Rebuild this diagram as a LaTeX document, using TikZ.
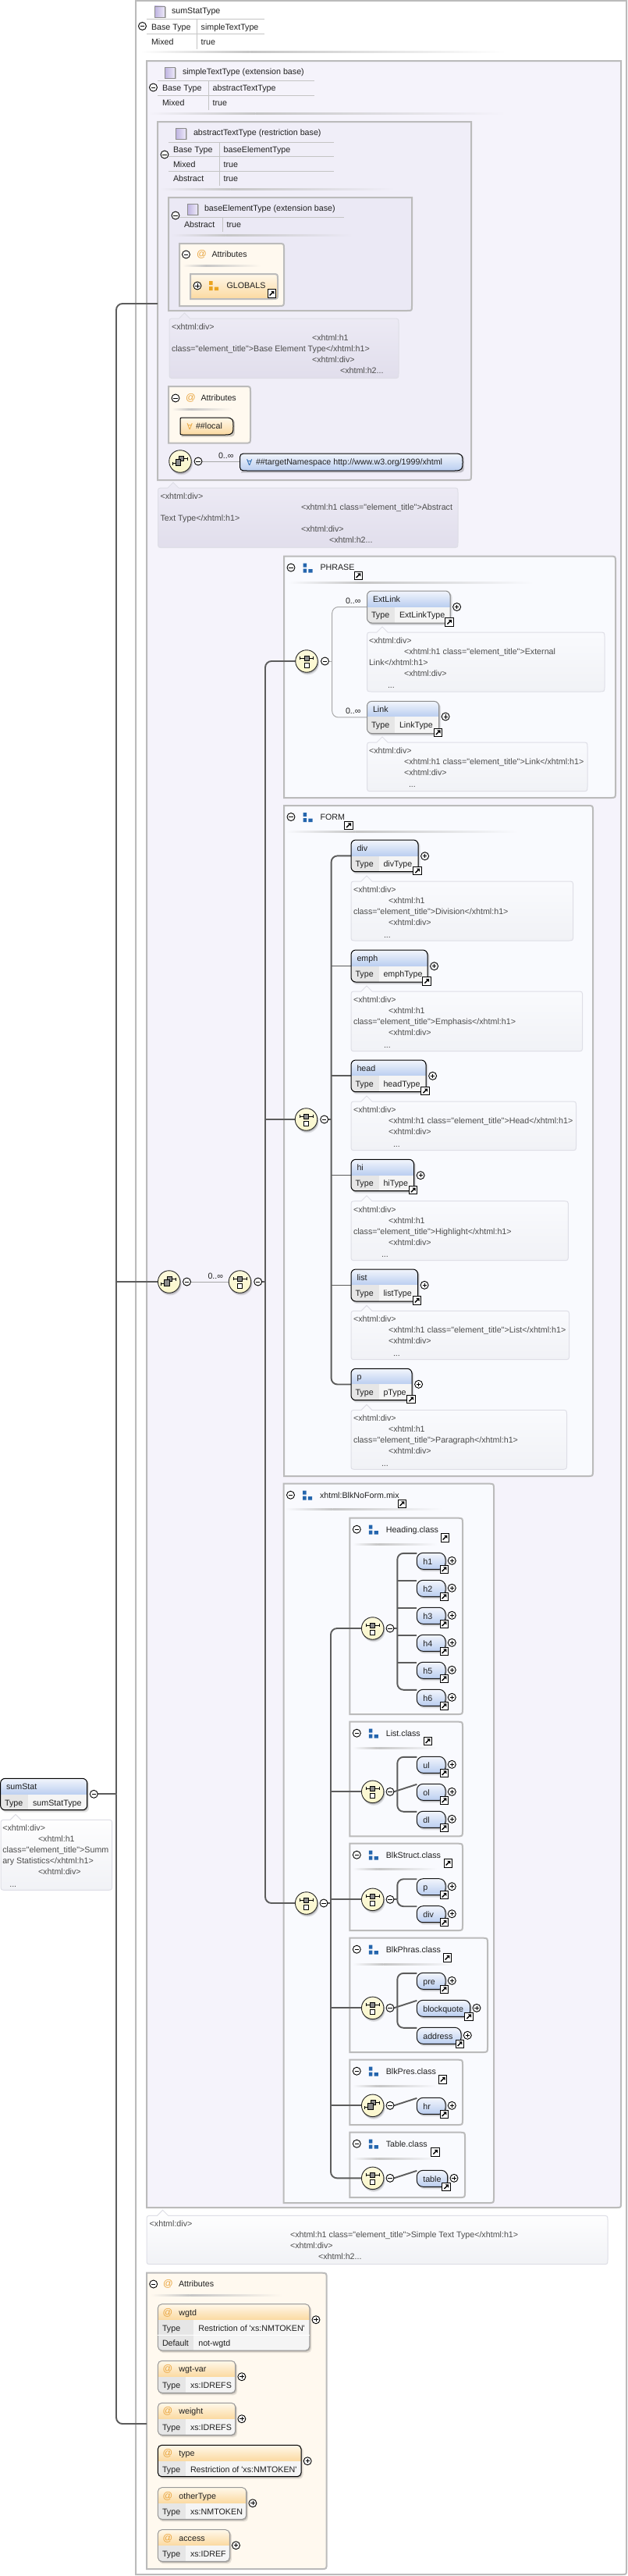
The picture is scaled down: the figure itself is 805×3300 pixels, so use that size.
\documentclass[tikz,border=0pt]{standalone}
\usepackage{fontspec}
\setmainfont{Liberation Sans}[Ligatures=TeXOff]
\newfontfamily\djv{DejaVu Sans}
\pgfdeclarelayer{boxes}\pgfdeclarelayer{wires}\pgfsetlayers{boxes,wires,main}
\definecolor{boxln}{HTML}{BBBBBB}
\definecolor{wirec}{HTML}{5C5C5C}
\definecolor{thinw}{HTML}{A8A8A8}
\definecolor{txtc}{HTML}{202020}
\definecolor{anntc}{HTML}{4C4C4C}
\definecolor{elt}{HTML}{F2F5FC}
\definecolor{elb}{HTML}{BACEF0}
\definecolor{rowa}{HTML}{E6E6E6}
\definecolor{rowb}{HTML}{F5F5F5}
\definecolor{att}{HTML}{FFF8EA}
\definecolor{atb}{HTML}{FBD9A0}
\definecolor{grpf}{HTML}{F9FAFE}
\definecolor{simf}{HTML}{F5F3FB}
\definecolor{absf}{HTML}{F0EEF8}
\definecolor{basf}{HTML}{EBE9F5}
\definecolor{attf}{HTML}{FFF9EF}
\definecolor{tlin}{HTML}{C4C4C4}
\definecolor{fadec}{HTML}{C6C6C6}
\definecolor{blueg}{HTML}{2465AD}
\definecolor{orag}{HTML}{EBA41F}
\definecolor{ats}{HTML}{E9A53F}
\definecolor{annln}{HTML}{DEDEE6}
\definecolor{annt}{HTML}{FAFBFE}
\definecolor{annb}{HTML}{F1F2F6}
\definecolor{lavt}{HTML}{EDEBF5}
\definecolor{lavb}{HTML}{E1DEEC}
\definecolor{ylw}{HTML}{FBF7CC}
\definecolor{tyl}{HTML}{BDB2E0}
\definecolor{tyr}{HTML}{ECE8F8}
\tikzset{
 txt/.style={inner sep=0,outer sep=0,font=\fontsize{10.7}{12}\selectfont,text=txtc},
 anntxt/.style={inner sep=0,outer sep=0,font=\fontsize{10.7}{12}\selectfont,text=anntc},
 attxt/.style={inner sep=0,outer sep=0,font=\fontsize{12.5}{13}\selectfont,text=ats},
 holder/.style={inner sep=0,outer sep=0,rectangle},
 pm/.style={circle,draw=black,fill=white,line width=0.9pt,inner sep=0,outer sep=0,minimum size=10pt},
 compn/.style={circle,draw=black!85,line width=0.9pt,top color=ylw!70!white,bottom color=ylw,inner sep=0,outer sep=0,minimum size=28.5pt},
 wire/.style={draw=wirec,line width=1.9pt},
 thinwire/.style={draw=thinw,line width=1pt},
 boxline/.style={draw=boxln,line width=2pt},
 tline/.style={draw=tlin,line width=1pt},
}
\newcount\nc
\newif\ifshowlink \showlinktrue
\newcommand{\lab}[4][txt]{\global\advance\nc by 1 \node[#1,anchor=base west] (n\the\nc) at (#2,#3+3.8) {#4};}
\newcommand{\hold}[5]{\pgfmathsetmacro\hdw{#4-#2}\pgfmathsetmacro\hdh{#5-#3}\node[holder,minimum width=\hdw pt,minimum height=\hdh pt,anchor=north west] (#1) at (#2,#3) {};}
\newcommand{\mns}[3]{\node[pm] (#1) at (#2,#3) {};\draw[line width=0.9pt] (#2-2.6,#3) -- (#2+2.6,#3);}
\newcommand{\pls}[3]{\node[pm] (#1) at (#2,#3) {};\draw[line width=0.8pt] (#2-2.6,#3) -- (#2+2.6,#3) (#2,#3-2.6) -- (#2,#3+2.6);}
\newcommand{\lnk}[2]{\global\advance\nc by 1 \node[holder,minimum size=10.5pt,anchor=north west,draw=black,line width=1pt,fill=white] (n\the\nc) at (#1,#2) {};
 \draw[line width=1.4pt] (#1+2.6,#2+8) -- (#1+6.6,#2+4);
 \fill (#1+4.2,#2+2.4) -- (#1+8.4,#2+2.4) -- (#1+8.4,#2+6.6) -- cycle;}
\newcommand{\fadel}[4]{\pgfmathsetmacro\xm{#1+0.3*(#2-#1)}
 \shade[left color=#4,right color=fadec] (#1,#3-1) rectangle (\xm,#3+1);
 \shade[left color=fadec,right color=#4] (\xm,#3-1) rectangle (#2,#3+1);}
\newcommand{\tbox}[6]{\hold{#1}{#2}{#3}{#4}{#5}
 \draw[boxline,#6] (#2,#3) -- (#4,#3) -- (#4,#5-6) .. controls (#4,#5) .. (#4-6,#5) -- (#2,#5) -- cycle;}
\newcommand{\gbox}[6]{\hold{#1}{#2}{#3}{#4}{#5}
 \draw[boxline,#6] (#2,#3) -- (#4-7,#3) .. controls (#4,#3) .. (#4,#3+7) -- (#4,#5-7) .. controls (#4,#5) .. (#4-7,#5) -- (#2,#5) -- cycle;}
\newcommand{\trow}[6]{\draw[tline] (#1,#4) -- (#3,#4) (#2,#4) -- (#2,#4+19);
 \lab{#1+6}{#4+9.7}{#5}\lab{#2+5.7}{#4+9.7}{#6}}
\newcommand{\tyicon}[2]{\global\advance\nc by 1
 \fill[black!25] (#1+2,#2+1) rectangle (#1+15,#2+15);
 \node[holder,minimum width=13pt,minimum height=14pt,anchor=north west,draw=black!45,line width=0.8pt,left color=tyl,right color=tyr] (n\the\nc) at (#1,#2) {};}
\newcommand{\gicon}[3]{\fill[#3] (#1,#2) rectangle (#1+4.6,#2+5) (#1,#2+7) rectangle (#1+4.6,#2+12) (#1+6.8,#2+7.5) rectangle (#1+12,#2+12);}
\newcommand{\ghead}[7]{\mns{#1-m}{#2+9}{#3+14.5}\gicon{#2+24.5}{#3+9}{blueg}\lab{#2+46.5}{#3+14.5}{#4}\lnk{#5}{#6}}
\newcommand{\compbase}[3]{\fill[black,opacity=.1] (#2+1.5,#3+3) circle[radius=14.5];\fill[black,opacity=.18] (#2+.8,#3+1.6) circle[radius=14.5];\node[compn] (#1) at (#2,#3) {};}
\newcommand{\comch}[3]{\compbase{#1}{#2}{#3}
 \draw[line width=1pt] (#2-8.5,#3-4) -- (#2+8.5,#3-4) (#2-8.5,#3-6) -- (#2-8.5,#3-2) (#2+8.5,#3-6) -- (#2+8.5,#3-2);
 \draw[line width=0.8pt,fill=black!45] (#2-3,#3-7) rectangle (#2+3,#3-1);
 \draw[line width=0.9pt,fill=white] (#2-3,#3+2) rectangle (#2+3,#3+8);}
\newcommand{\comseq}[3]{\compbase{#1}{#2}{#3}
 \draw[line width=1pt] (#2-10,#3+2.5) -- (#2-5,#3+2.5) (#2+3,#3-3.5) -- (#2+9,#3-3.5) (#2+9,#3-5.5) -- (#2+9,#3-1.5) (#2-10,#3+.5) -- (#2-10,#3+4.5);
 \draw[line width=0.8pt,fill=black!45] (#2-2,#3-7) rectangle (#2+4,#3-1);
 \draw[line width=0.8pt,fill=black!45] (#2-6,#3-2.5) rectangle (#2+0.5,#3+5.5);}
\newcommand{\elemT}[9]{\hold{#2}{#3}{#4}{#5}{#7}
 \fill[black,opacity=.1,rounded corners=6] (#3+1.5,#4+2) rectangle (#5+2.5,#7+3);
 \fill[black,opacity=.18,rounded corners=6] (#3+1,#4+1) rectangle (#5+1.2,#7+1.5);
 \begin{scope}\clip[rounded corners=6] (#3,#4) rectangle (#5,#7);
 \shade[top color=elt,bottom color=elb] (#3,#4) rectangle (#5,#6);
 \fill[rowa] (#3,#6) rectangle (#3+35.7,#7);
 \fill[rowb] (#3+35.7,#6) rectangle (#5,#7);
 \end{scope}
 \draw[#1,line width=1pt,rounded corners=6] (#3,#4) rectangle (#5,#7);
 \lab{#3+7.5}{#4+10.5}{#8}\lab{#3+5.5}{#6+10.3}{Type}\lab{#3+41.5}{#6+10.3}{#9}
 \ifshowlink\pls{#2-p}{#5+8.6}{#6}\lnk{#5-6.3}{#7-6.5}\fi}
\newcommand{\selem}[5]{\hold{#1}{#2}{#4-10}{#3}{#4+11}
 \fill[black,opacity=.1,rounded corners=8] (#2+1.5,#4-8) rectangle (#3+2.5,#4+14);
 \fill[black,opacity=.18,rounded corners=8] (#2+1,#4-9) rectangle (#3+1.2,#4+12.5);
 \draw[black!90,line width=1pt,rounded corners=8,top color=elt,bottom color=elb] (#2,#4-10) rectangle (#3,#4+11);
 \lab{#2+8}{#4+1}{#5}\pls{#1-p}{#3+8.3}{#4}\lnk{#3-7}{#4+5.7}}
\newcommand{\attel}[9]{\hold{#2}{#3}{#4}{#5}{#7}
 \fill[black,opacity=.1,rounded corners=5] (#3+1.5,#4+2) rectangle (#5+2.5,#7+3);
 \fill[black,opacity=.18,rounded corners=5] (#3+1,#4+1) rectangle (#5+1.2,#7+1.5);
 \begin{scope}\clip[rounded corners=5] (#3,#4) rectangle (#5,#7);
 \shade[top color=att,bottom color=atb] (#3,#4) rectangle (#5,#6);
 \fill[rowa] (#3,#6) rectangle (#9,#7);
 \fill[rowb] (#9,#6) rectangle (#5,#7);
 \end{scope}
 \draw[#1,line width=1pt,rounded corners=5] (#3,#4) rectangle (#5,#7);
 \lab[attxt]{#3+6.2}{#4+10.7}{@}\lab{#3+27}{#4+10.7}{#8}
 \pls{#2-p}{#5+8.2}{#6-0.3}}
\newcommand{\pill}[8]{\hold{#1}{#2}{#3}{#4}{#5}
 \fill[black,opacity=.2] (#2+#8+1.5,#3+2) -- (#4-8,#3+2) .. controls (#4+2,#3+2) .. (#4+2,#3+11) .. controls (#4+2,#5+2.5) .. (#4-8,#5+2.5) -- (#2+1.5,#5+2.5) -- cycle;
 \draw[black,line width=1pt,top color=#6,bottom color=#7] (#2+#8,#3) -- (#4-10,#3) .. controls (#4,#3) and (#4,#3+3) .. (#4,#3+11) .. controls (#4,#5-3) and (#4,#5) .. (#4-10,#5) -- (#2+#8,#5) .. controls (#2,#5) .. (#2,#5-#8) -- (#2,#3+#8) .. controls (#2,#3) .. (#2+#8,#3) -- cycle;}
\newcommand{\annobox}[8]{\hold{#1}{#2}{#3}{#4}{#5}
 \draw[annln,line width=1pt,top color=#7,bottom color=#8] (#2+7,#3) -- (#6-7,#3) -- (#6,#3-7) -- (#6+7,#3) -- (#4-7,#3) .. controls (#4,#3) .. (#4,#3+7) -- (#4,#5-7) .. controls (#4,#5) .. (#4-7,#5) -- (#2+7,#5) .. controls (#2,#5) .. (#2,#5-7) -- (#2,#3+7) .. controls (#2,#3) .. (#2+7,#3) -- cycle;}
\newcommand{\al}[3]{\lab[anntxt]{#1}{#2}{#3}}
\newcommand{\XD}{<xhtml:div>}
\newcommand{\XO}{<xhtml:h1}
\newcommand{\CL}{class="element\_title">}
\newcommand{\XC}{</xhtml:h1>}
\newcommand{\XT}{<xhtml:h2...}
\newcommand{\annA}[6]{\annobox{#1}{450}{#2}{#3}{#4}{470}{annt}{annb}
 \al{453}{#2+10.7}{\XD}\al{498}{#2+24.7}{\XO}\al{453}{#2+38.7}{\CL#6\XC}\al{498}{#2+52.7}{\XD}\al{#5}{#2+68.3}{...}}
\newcommand{\annB}[6]{\annobox{#1}{450}{#2}{#3}{#4}{470}{annt}{annb}
 \al{453}{#2+10.7}{\XD}\al{498}{#2+24.7}{\XO\ \CL#6\XC}\al{498}{#2+38.7}{\XD}\al{#5}{#2+54.3}{...}}
\begin{document}
\begin{tikzpicture}[x=1pt,y=-1pt]
\useasboundingbox (0,0) rectangle (805,3300);
\begin{pgfonlayer}{boxes}
\fill[white] (0,0) rectangle (805,3300);
\tbox{outer}{174}{1}{803}{3298}{fill=white}
\tyicon{198}{8}\lab{220}{14}{sumStatType}
\trow{188}{252}{339}{25}{Base Type}{simpleTextType}
\trow{188}{252}{339}{44}{Mixed}{true}
\mns{outer-m}{182.5}{33.5}\fadel{180}{648}{66.7}{white}
\tbox{simple}{188}{78}{796}{2828}{fill=simf}
\tyicon{211}{86}\lab{234}{92}{simpleTextType (extension base)}
\trow{202}{267}{403}{103}{Base Type}{abstractTextType}
\trow{202}{267}{403}{122}{Mixed}{true}
\mns{simple-m}{196.5}{112}\fadel{190}{648}{145}{simf}
\tbox{abstr}{202}{156}{604}{615}{fill=absf}
\tyicon{225}{164}\lab{248}{170}{abstractTextType (restriction base)}
\trow{216}{281}{428}{182}{Base Type}{baseElementType}
\trow{216}{281}{428}{200.5}{Mixed}{true}
\trow{216}{281}{428}{219}{Abstract}{true}
\mns{abstr-m}{211}{198}\fadel{205}{506}{242}{absf}
\tbox{baseel}{216}{253}{528}{398}{fill=basf}
\tyicon{240}{261}\lab{262}{267}{baseElementType (extension base)}
\trow{230}{285}{441}{278}{Abstract}{true}
\mns{baseel-m}{225}{276}\fadel{220}{452}{301}{basf}
\gbox{attrA}{230}{312}{364}{392}{fill=attf}
\mns{attrA-m}{238.5}{326}\lab[attxt]{252}{326}{@}\lab{271.5}{326}{Attributes}
\fadel{234}{334}{340}{attf}
\gbox{globals}{244}{351}{356}{383}{top color=att,bottom color=atb}
\pls{globals-p}{253}{366}\gicon{268}{360}{orag}\lab{290.5}{365.5}{GLOBALS}\lnk{343}{370.5}
\gbox{attrB}{216}{495}{321}{567.6}{fill=attf}
\mns{attrB-m}{225}{510}\lab[attxt]{238}{510}{@}\lab{257.6}{510}{Attributes}
\fadel{220}{298}{524}{attf}
\gbox{phrase}{364}{712.6}{789}{1022}{fill=grpf}
\ghead{phrase}{364}{712.6}{PHRASE}{454}{732}{}
\fadel{370}{684}{746}{grpf}
\gbox{form}{364}{1032}{760}{1891}{fill=grpf}
\ghead{form}{364}{1032}{FORM}{441.6}{1052}{}
\fadel{366}{664}{1065}{grpf}
\gbox{blk}{363.5}{1900.7}{633}{2822}{fill=grpf}
\ghead{blk}{363.5}{1900.7}{xhtml:BlkNoForm.mix}{510}{1921}{}
\fadel{366}{567}{1933.7}{grpf}
\gbox{head}{448.3}{1944.7}{593}{2196}{fill=grpf}
\ghead{head}{448.3}{1944.7}{Heading.class}{565}{1964.5}{}
\fadel{452}{560}{1978}{grpf}
\gbox{listc}{448.3}{2205.7}{593}{2352.3}{fill=grpf}
\ghead{listc}{448.3}{2205.7}{List.class}{543}{2225}{}
\fadel{452}{560}{2239}{grpf}
\gbox{struct}{448.3}{2361.7}{593}{2473}{fill=grpf}
\ghead{struct}{448.3}{2361.7}{BlkStruct.class}{569}{2381.5}{}
\fadel{452}{560}{2394.7}{grpf}
\gbox{phras}{448.3}{2482.7}{625}{2629}{fill=grpf}
\ghead{phras}{448.3}{2482.7}{BlkPhras.class}{568}{2502.5}{}
\fadel{452}{583}{2516}{grpf}
\gbox{pres}{448.3}{2638.7}{593}{2722}{fill=grpf}
\ghead{pres}{448.3}{2638.7}{BlkPres.class}{562.3}{2658.5}{}
\fadel{452}{560}{2672}{grpf}
\gbox{table}{448.3}{2731.7}{596}{2815}{fill=grpf}
\ghead{table}{448.3}{2731.7}{Table.class}{552.7}{2751.5}{}
\fadel{452}{560}{2765}{grpf}
\gbox{attrC}{188}{2911.7}{418.6}{3291}{fill=attf}
\mns{attrC-m}{196.7}{2926}\lab[attxt]{209}{2926}{@}\lab{229}{2926}{Attributes}
\fadel{193}{362}{2940}{attf}
\end{pgfonlayer}
\annobox{a-base}{217}{408}{511}{484.6}{236.5}{lavt}{lavb}
\al{220}{418.6}{\XD}\al{400}{432.8}{\XO}\al{220}{446.6}{\CL Base Element Type\XC}\al{400}{460.5}{\XD}\al{436}{474.7}{\XT}
\pill{local}{231}{535}{299}{557}{att}{atb}{3}
\global\advance\nc by 1 \node[inner sep=0,outer sep=0,anchor=base west,font=\djv\fontsize{10.7}{12}\selectfont,text=ats] (n\the\nc) at (239.5,550) {∀};
\lab{251}{546}{\#\#local}
\comseq{seqA}{231}{591}\mns{seqA-m}{254}{591}
\lab{280}{584}{0..∞}
\pill{tns}{307.5}{581}{593}{603}{elt}{elb}{10}
\global\advance\nc by 1 \node[inner sep=0,outer sep=0,anchor=base west,font=\djv\fontsize{10.7}{12}\selectfont,text=blueg] (n\the\nc) at (316,596) {∀};
\lab{328}{592}{\#\#targetNamespace http://www.w3.org/1999/xhtml}
\annobox{a-abs}{202.5}{625}{587}{701.6}{222}{lavt}{lavb}
\al{205.6}{635.6}{\XD}\al{386}{649.4}{\XO\ \CL Abstract}\al{205.6}{663.6}{Text Type\XC}\al{386}{677.5}{\XD}\al{422}{691.7}{\XT}
\comch{chP}{393}{847}\mns{chP-m}{416.5}{847}
\lab{443}{770}{0..∞}\lab{443}{911}{0..∞}
\elemT{black!45}{extlink}{470.5}{757}{577}{777.5}{798}{ExtLink}{ExtLinkType}
\annobox{a-ext}{470.5}{810}{775}{886}{490}{annt}{annb}
\al{473}{820.5}{\XD}\al{518}{834.8}{\XO\ \CL External}\al{473}{848.6}{Link\XC}\al{518}{862.5}{\XD}\al{497}{877.5}{...}
\elemT{black!45}{linkel}{470.5}{898.4}{562.5}{918}{939.5}{Link}{LinkType}
\annobox{a-lnk}{470.5}{951}{753}{1013.7}{490}{annt}{annb}
\al{473}{961.3}{\XD}\al{518}{975.5}{\XO\ \CL Link\XC}\al{518}{989.3}{\XD}\al{524}{1004.7}{...}
\comch{chF}{392.5}{1434}\mns{chF-m}{415.7}{1434}
\elemT{black}{div}{450}{1076}{536}{1096.7}{1116.7}{div}{divType}
\annA{a-div}{1129}{734.6}{1205}{492}{Division}
\elemT{black}{emph}{450}{1217}{548}{1237.7}{1258}{emph}{emphType}
\annA{a-emph}{1270}{746.6}{1346.7}{492}{Emphasis}
\elemT{black}{headel}{450}{1358}{546}{1378.3}{1398.7}{head}{headType}
\annB{a-head}{1411}{738.5}{1473.7}{504}{Head}
\elemT{black}{hi}{450}{1485.3}{530.5}{1505.7}{1525.7}{hi}{hiType}
\annA{a-hi}{1538.7}{728.4}{1614.7}{489}{Highlight}
\elemT{black}{listel}{450}{1626}{535.5}{1646.3}{1667}{list}{listType}
\annB{a-list}{1679.3}{729.6}{1741.7}{504}{List}
\elemT{black}{pel}{450}{1753.3}{528}{1773.3}{1793.7}{p}{pType}
\annA{a-p}{1806.3}{726.5}{1882.3}{489}{Paragraph}
\comseq{seqM}{216.7}{1642}\mns{seqM-m}{239.5}{1642}
\lab{266.5}{1635}{0..∞}
\comch{chM}{307.5}{1642}\mns{chM-m}{330.7}{1642}
\comch{chX}{392.7}{2438}\mns{chX-m}{415}{2438}
\comch{chH}{477.7}{2086}\mns{chH-m}{500}{2086}
\selem{h1}{534.3}{571}{1999.3}{h1}\selem{h2}{534.3}{571}{2034.3}{h2}\selem{h3}{534.3}{571}{2069.3}{h3}
\selem{h4}{534.3}{571}{2104.3}{h4}\selem{h5}{534.3}{571}{2139.3}{h5}\selem{h6}{534.3}{571}{2174.3}{h6}
\comch{chL}{477.7}{2295.3}\mns{chL-m}{500}{2295.3}
\selem{ul}{534.3}{571}{2260.3}{ul}\selem{ol}{534.3}{571}{2295.3}{ol}\selem{dl}{534.3}{571}{2330.3}{dl}
\comch{chS}{477.7}{2433.3}\mns{chS-m}{500}{2433.3}
\selem{ps}{534.3}{571}{2416.7}{p}\selem{divs}{534.3}{571}{2451.7}{div}
\comch{chR}{477.7}{2572.3}\mns{chR-m}{500}{2572.3}
\selem{pre}{534.3}{571}{2537.3}{pre}\selem{blockq}{534.3}{602.7}{2572.3}{blockquote}\selem{addr}{534.3}{591}{2607.3}{address}
\comseq{seqP}{477.7}{2697.3}\mns{seqP-m}{500}{2697.3}
\selem{hr}{534.3}{571}{2697.3}{hr}
\comch{chT}{477.7}{2790.3}\mns{chT-m}{500}{2790.3}
\selem{tabl}{534.3}{573.7}{2790.3}{table}
\annobox{a-simple}{188}{2838.3}{779}{2900.7}{208.6}{white}{annb}
\al{191.7}{2848.7}{\XD}\al{372}{2862.7}{\XO\ \CL Simple Text Type\XC}\al{372}{2876.7}{\XD}\al{408}{2890.7}{\XT}
\attel{black!40}{wgtd}{202.4}{2951.7}{396.8}{2972}{3011}{wgtd}{248}
\draw[white,line width=.8pt] (202.4,2991) -- (396.8,2991);
\lab{208}{2982.3}{Type}\lab{254.3}{2982.3}{Restriction of \textquotesingle xs:NMTOKEN\textquotesingle}
\lab{208}{3001.3}{Default}\lab{254.3}{3001.3}{not-wgtd}
\attel{black!40}{wgtvar}{202.4}{3024.3}{301.7}{3045}{3065.3}{wgt-var}{238.3}
\lab{208}{3055.3}{Type}\lab{244}{3055.3}{xs:IDREFS}
\attel{black!40}{weight}{202.4}{3078.3}{301.7}{3099}{3119.3}{weight}{238.3}
\lab{208}{3109.3}{Type}\lab{244}{3109.3}{xs:IDREFS}
\attel{black}{typeat}{202.4}{3132.3}{386}{3153}{3172.7}{type}{238.3}
\lab{208}{3163.3}{Type}\lab{244}{3163.3}{Restriction of \textquotesingle xs:NMTOKEN\textquotesingle}
\attel{black!40}{otherat}{202.4}{3186.7}{315.7}{3207}{3227.3}{otherType}{238.3}
\lab{208}{3217.3}{Type}\lab{244}{3217.3}{xs:NMTOKEN}
\attel{black!40}{accessat}{202.4}{3240.7}{294.3}{3261}{3281.3}{access}{238.3}
\lab{208}{3271.3}{Type}\lab{244}{3271.3}{xs:IDREF}
\showlinkfalse
\elemT{black}{sumstat}{0.6}{2278.3}{111.7}{2299}{2318.7}{sumStat}{sumStatType}
\showlinktrue
\annobox{a-sum}{1}{2331.3}{143.7}{2421.3}{20}{white}{annb}
\al{3.3}{2341.7}{\XD}\al{49}{2355.7}{\XO}\al{3.3}{2369.7}{class="element\_title">Summ}\al{3.3}{2383.7}{ary Statistics\XC}\al{49}{2397.7}{\XD}\al{12.3}{2413.3}{...}
\mns{sumstat-m}{120.3}{2298.3}
\coordinate (spRoot) at (149,2298.3);
\coordinate (abEnd) at (202,389);
\coordinate (atEnd) at (188,3105);
\coordinate (spMid) at (340,1642);
\coordinate (spForm) at (424.6,1434);
\coordinate (spPhrase) at (425.7,847);
\coordinate (spX) at (424,2438);
\coordinate (spH) at (509.3,2086);
\coordinate (spL) at (509.3,2295.3);
\coordinate (spS) at (509.3,2433.3);
\coordinate (spR) at (509.3,2572.3);
\begin{pgfonlayer}{wires}
\draw[wire] (sumstat-m.east) -- (spRoot);
\draw[wire,rounded corners=8] (abEnd) -| (spRoot);
\draw[wire,rounded corners=8] (atEnd) -| (spRoot);
\draw[wire] (seqM.west) -- (seqM.west -| spRoot);
\draw[thinwire] (seqA-m.east) -- (tns.west |- seqA-m.east);
\draw[thinwire] (seqM-m.east) -- (chM.west);
\draw[wire] (chM-m.east) -- (spMid);
\draw[wire,rounded corners=8] (chP.west) -| (spMid);
\draw[wire,rounded corners=8] (chX.west) -| (spMid);
\draw[wire] (chF.west) -- (chF.west -| spMid);
\draw[thinwire] (chP-m.east) -- (spPhrase);
\draw[thinwire,rounded corners=8] (extlink.west) -| (spPhrase);
\draw[thinwire,rounded corners=8] (linkel.west) -| (spPhrase);
\draw[wire] (chF-m.east) -- (spForm);
\draw[wire,rounded corners=8] (div.west) -| (spForm);
\draw[wire,rounded corners=8] (pel.west) -| (spForm);
\draw[wire] (emph.west) -- (emph.west -| spForm);
\draw[wire] (headel.west) -- (headel.west -| spForm);
\draw[wire] (hi.west) -- (hi.west -| spForm);
\draw[wire] (listel.west) -- (listel.west -| spForm);
\draw[wire] (chX-m.east) -- (spX);
\draw[wire,rounded corners=8] (chH.west) -| (spX);
\draw[wire,rounded corners=8] (chT.west) -| (spX);
\draw[wire] (chL.west) -- (chL.west -| spX);
\draw[wire] (chS.west) -- (chS.west -| spX);
\draw[wire] (chR.west) -- (chR.west -| spX);
\draw[wire] (seqP.west) -- (seqP.west -| spX);
\draw[wire] (chH-m.east) -- (spH);
\draw[wire,rounded corners=8] (h1.west) -| (spH);
\draw[wire,rounded corners=8] (h6.west) -| (spH);
\draw[wire] (h2.west) -- (h2.west -| spH);
\draw[wire] (h3.west) -- (h3.west -| spH);
\draw[wire] (h4.west) -- (h4.west -| spH);
\draw[wire] (h5.west) -- (h5.west -| spH);
\draw[wire] (chL-m.east) -- (ol.west);
\draw[wire,rounded corners=8] (ul.west) -| (spL);
\draw[wire,rounded corners=8] (dl.west) -| (spL);
\draw[wire] (chS-m.east) -- (spS);
\draw[wire,rounded corners=8] (ps.west) -| (spS);
\draw[wire,rounded corners=8] (divs.west) -| (spS);
\draw[wire] (chR-m.east) -- (blockq.west);
\draw[wire,rounded corners=8] (pre.west) -| (spR);
\draw[wire,rounded corners=8] (addr.west) -| (spR);
\draw[wire] (seqP-m.east) -- (hr.west);
\draw[wire] (chT-m.east) -- (tabl.west);
\end{pgfonlayer}
\end{tikzpicture}
\end{document}
